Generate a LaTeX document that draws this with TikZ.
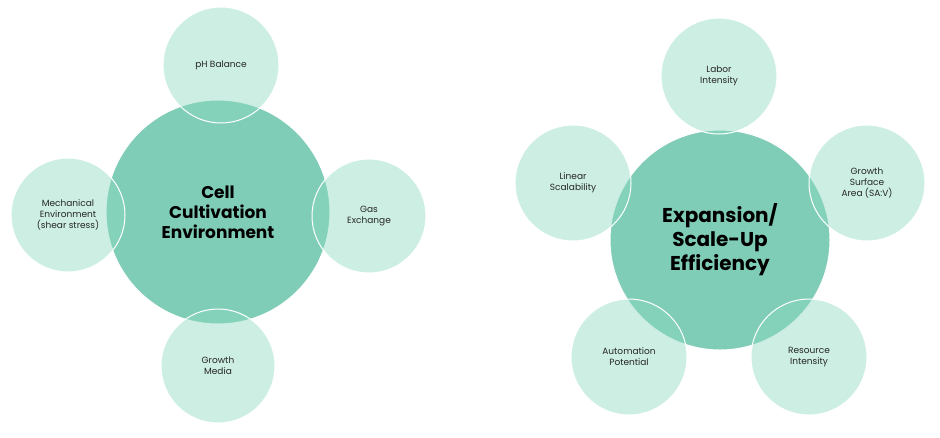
\documentclass[tikz,border=0pt]{standalone}
\usepackage{fontspec}
\setmainfont{Poppins}
\begin{document}
\begin{tikzpicture}[x=1pt,y=-1pt,
  big/.style={circle,draw=white,line width=1pt,fill=bigc,minimum size=#1,align=center,font=\bfseries\fontsize{17}{20}\selectfont},
  small/.style={circle,draw=white,line width=1pt,fill=smc,fill opacity=0.45,text opacity=1,minimum size=116pt,align=center,font=\fontsize{9}{11}\selectfont,text=black!85}]
\definecolor{bigc}{HTML}{7FCDB7}
\definecolor{smc}{HTML}{8ED9C2}
\useasboundingbox (0,0) rectangle (940,437);
\node[big=224pt] (c1) at (218,212) {Cell\\Cultivation\\Environment};
\node[small] (a1) at (221,65) {pH Balance};
\node[small,minimum size=114pt] (a2) at (68,215) {Mechanical\\Environment\\(shear stress)};
\node[small,minimum size=114pt] (a3) at (369,216) {Gas\\Exchange};
\node[small,minimum size=114pt] (a4) at (218,366) {Growth\\Media};
\node[big=220pt,font=\bfseries\fontsize{20}{24}\selectfont] (c2) at (720,240) {Expansion/\\Scale-Up\\Efficiency};
\node[small] (b1) at (719,76) {Labor\\Intensity};
\node[small] (b2) at (573,183) {Linear\\Scalability};
\node[small] (b3) at (867,183) {Growth\\Surface\\Area (SA:V)};
\node[small] (b4) at (629,357) {Automation\\Potential};
\node[small] (b5) at (809,357) {Resource\\Intensity};
\end{tikzpicture}
\end{document}
